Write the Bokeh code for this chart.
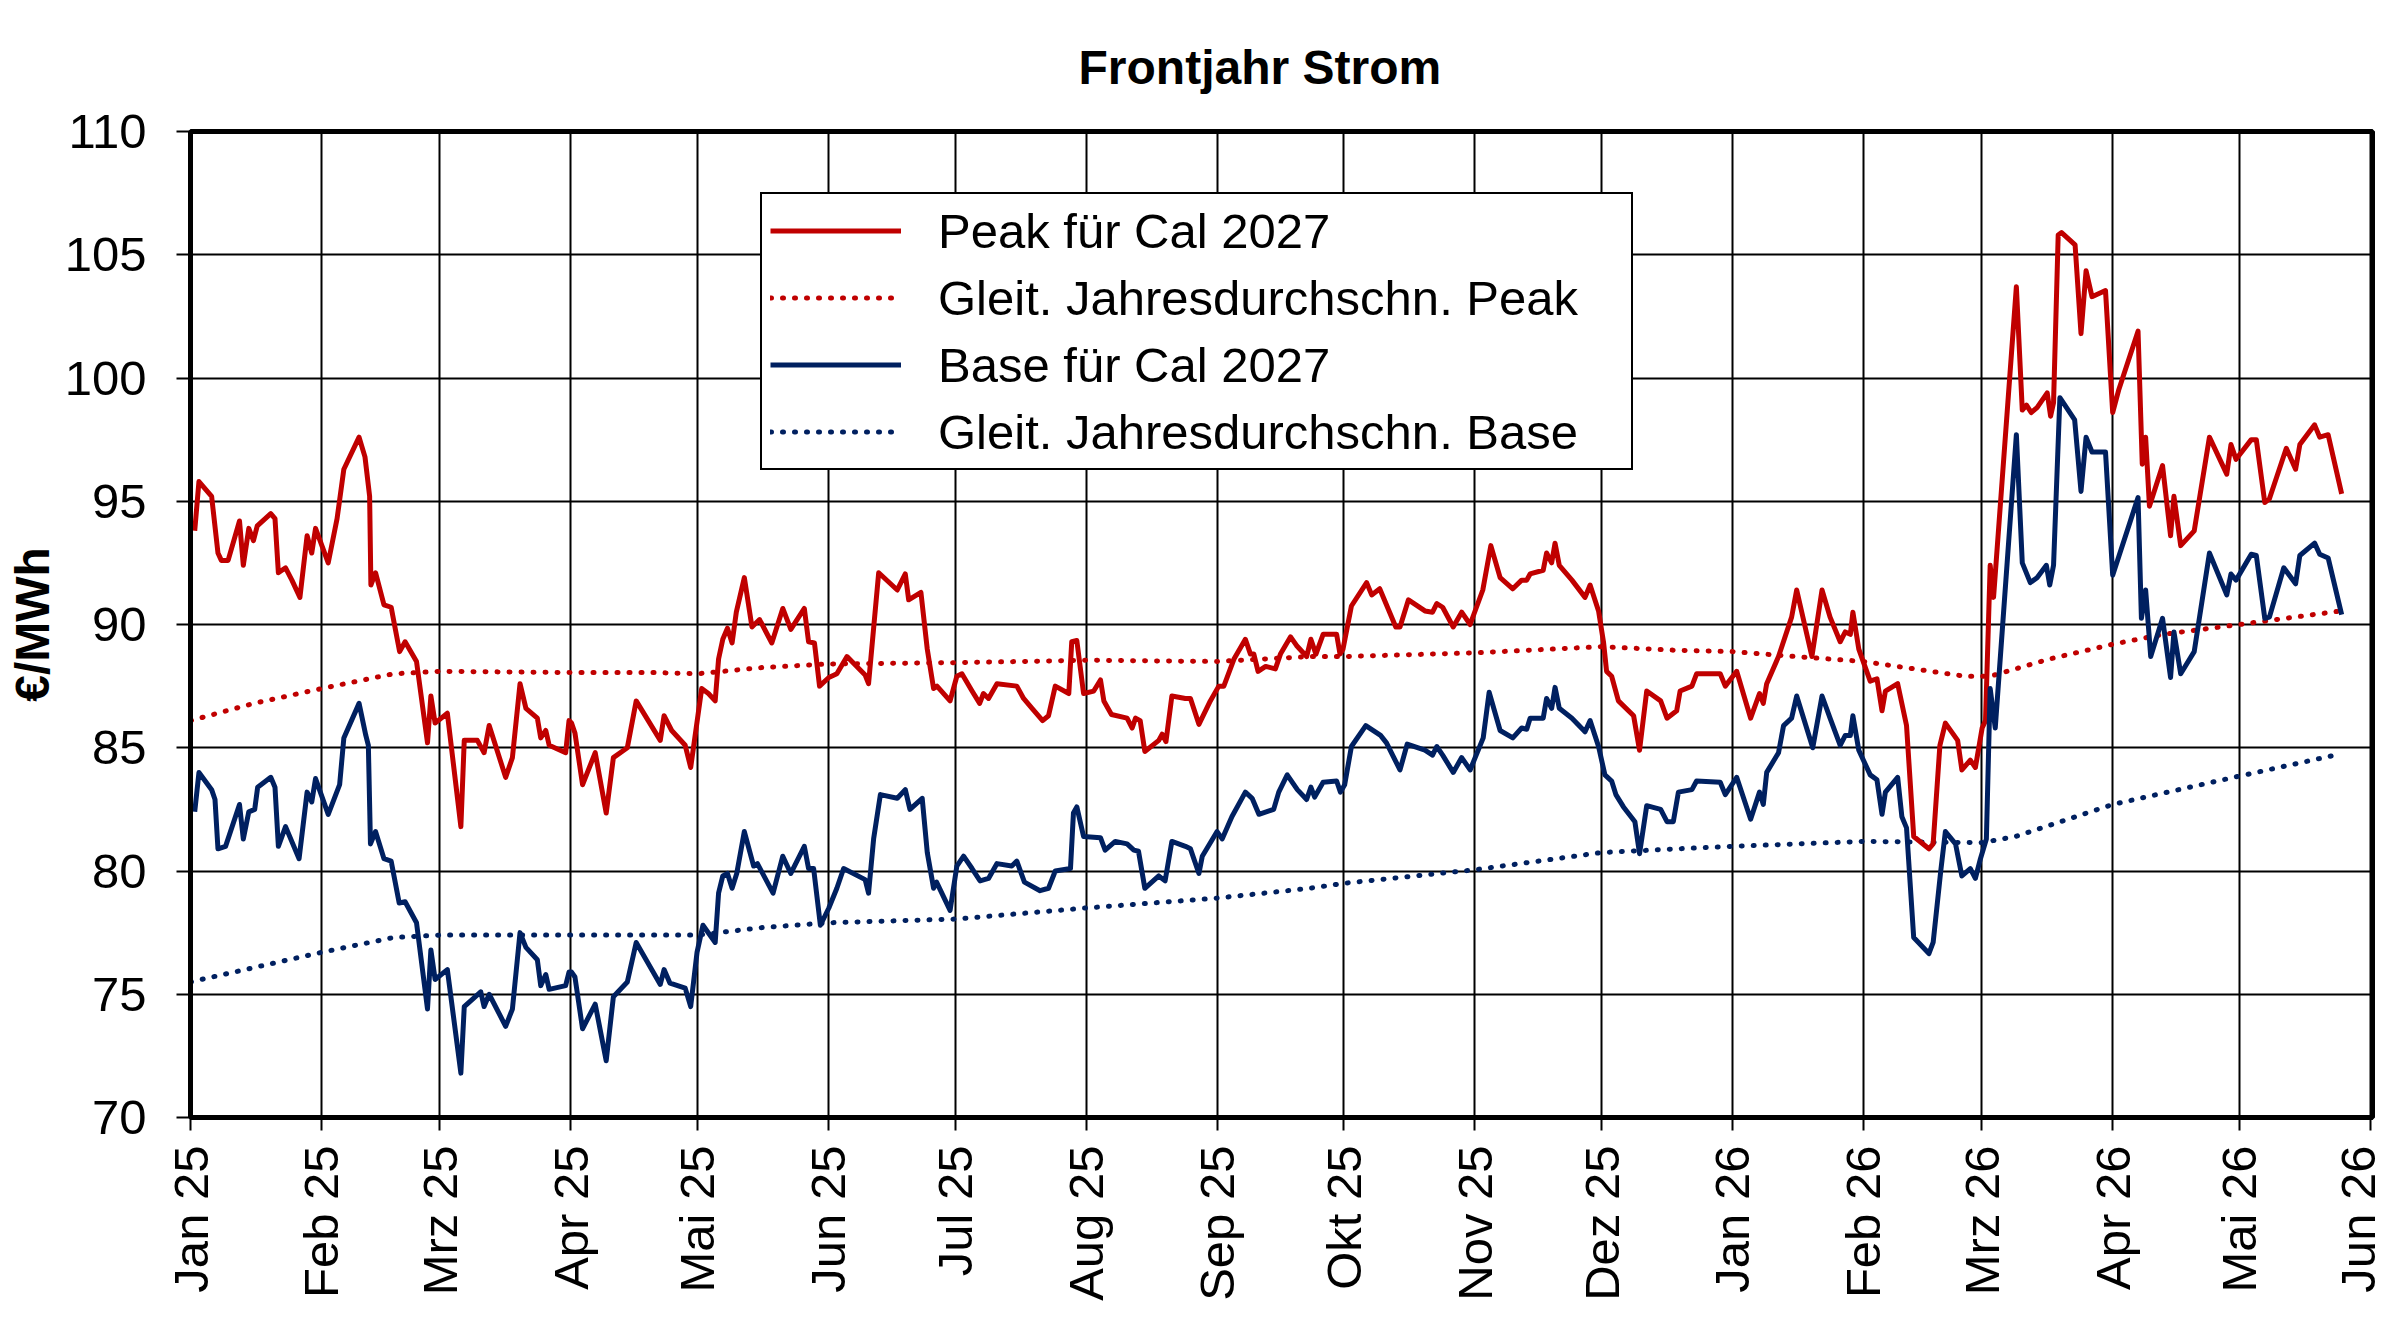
import numpy as np
import pandas as pd
from bokeh.plotting import figure
from bokeh.models import FixedTicker, Range1d, Legend, LegendItem
from bokeh.embed import file_html
from bokeh.resources import INLINE

# ---------------- data ----------------
# x values are days after 2025-01-01
peak_day = [
    1, 2, 5, 6.5, 7.3, 8.9, 11.6, 12.5, 13.8, 14.9, 15.8, 19, 20, 20.8, 22.5, 24, 25.9, 27.6, 28.7, 29.6,
    32.6, 34.7, 36.3, 39.9, 41.3, 42.4, 42.7, 43.8, 45.8, 47.5, 49.5, 50.8, 53.5, 56.1, 56.9, 57.9,
    60.8, 64, 64.8, 67.9, 69.5, 70.7, 74.6, 76.2, 78, 79.4, 82.1, 82.9, 84.1, 84.9, 88.8, 89.6,
    90.2, 91, 92.8, 95.8, 98.4, 100.1, 103.4, 105.5, 111.2, 112.1, 113.9, 117.1, 118.4,
    121, 122.6, 124.2, 125, 126, 127.1, 128.2, 129.2, 131.1, 132.9, 134.7, 137.6, 140.2, 142.1, 145.3, 146.3, 147.7, 148.9,
    151.1, 153, 155.4, 159.7, 160.5, 162.9, 167.3, 169.2, 170, 172.9, 174.4, 175.9,
    176.7, 179.8, 181.4, 182.6, 185, 186.8, 187.7, 188.9, 190.9, 195.6, 197.2, 199.2, 201.7, 203.1, 204.7, 207.9, 208.6, 209.8,
    211.4, 213.8, 215.4, 216.2, 218, 221.7, 222.9, 223.7, 224.8, 225.9, 229.2, 230, 230.9, 232.3, 235.5, 236.7, 238.7,
    241.4, 243.4, 244.6, 247, 249.7, 250.9, 251.7, 252.7, 254.5, 256.8, 258, 260.4,
    261.8, 264.2, 265.2, 266.4, 268.1, 271.3, 272.1, 272.8, 274.8, 278.4, 279.6, 281.5, 285.3, 286.3, 288.3, 292.2, 294, 295, 296.4, 298.9,
    300.9, 302.9, 305.9, 307.8, 310, 313, 315.1, 316.3, 317.1, 320.2, 321, 322.2, 323, 324, 327, 330.1, 331.3, 333.3,
    334.5, 335.2, 336.4, 338, 341.6, 343, 344.7, 348, 349.5, 351.8, 352.6,
    355.4, 356.5, 362.1, 363.3, 366, 369.3, 371.4, 372.3, 373.1, 375.9, 379, 380.2, 383.8, 386.2, 388.1, 390.5, 391.7, 392.9, 393.5, 394.9,
    397.6, 399.2, 400.4, 401.2, 404.1, 406.2, 407.9, 411.5, 412.5, 414.1, 415.4, 418.3, 419.3, 421.3, 422.5, 424.1, 424.9,
    426, 426.8, 432.2, 433.6, 434.6, 435.7, 437.1, 439.5, 440.3,
    441, 442.1, 442.9, 446.1, 447.5, 448.7, 450.1, 453.3, 455, 456.4, 461, 462, 462.8, 463.7, 466.8, 468.7, 469.5, 471.1, 474.3, 477.9,
    482, 483, 484.2, 487.8, 489, 491, 492.1, 496.1, 498.3, 499.3, 502.8, 504, 506, 509.2,
]
peak_eur = [
    93.8, 95.8, 95.2, 92.9, 92.6, 92.6, 94.2, 92.4, 93.9, 93.4, 94.0, 94.5, 94.3, 92.1, 92.3, 91.8, 91.1, 93.6, 92.9, 93.9,
    92.5, 94.3, 96.3, 97.6, 96.8, 95.2, 91.6, 92.1, 90.8, 90.7, 88.9, 89.3, 88.5, 85.2, 87.1, 86.0,
    86.4, 81.8, 85.3, 85.3, 84.8, 85.9, 83.8, 84.6, 87.6, 86.6, 86.2, 85.4, 85.7, 85.1, 84.8, 86.1,
    86.0, 85.6, 83.5, 84.8, 82.35, 84.6, 85.0, 86.9, 85.3, 86.3, 85.7, 85.1, 84.2,
    87.4, 87.2, 86.9, 88.6, 89.4, 89.85, 89.25, 90.5, 91.9, 89.9, 90.2, 89.25, 90.65, 89.8, 90.65, 89.3, 89.25, 87.5,
    87.85, 88.0, 88.7, 87.95, 87.6, 92.1, 91.4, 92.05, 91.0, 91.3, 89.0, 87.4,
    87.5, 86.9, 87.9, 88.0, 87.3, 86.8, 87.2, 87.0, 87.6, 87.5, 87.0, 86.6, 86.1, 86.3, 87.5, 87.2, 89.3, 89.35,
    87.2, 87.3, 87.75, 86.9, 86.35, 86.2, 85.8, 86.2, 86.1, 84.85, 85.3, 85.55, 85.25, 87.1, 87.0, 87.0, 85.95,
    86.9, 87.5, 87.5, 88.6, 89.4, 88.8, 88.8, 88.1, 88.3, 88.2, 88.8, 89.5,
    89.15, 88.7, 89.4, 88.8, 89.6, 89.6, 88.8, 89.0, 90.75, 91.7, 91.2, 91.45, 89.9, 89.9, 91.0, 90.55, 90.5, 90.85, 90.7, 89.9,
    90.5, 90.0, 91.4, 93.2, 91.9, 91.45, 91.8, 91.8, 92.05, 92.2, 92.9, 92.5, 93.3, 92.4, 91.8, 91.1, 91.6, 90.55,
    89.25, 88.1, 87.9, 86.9, 86.3, 84.9, 87.3, 86.9, 86.2, 86.5, 87.3,
    87.5, 88.0, 88.0, 87.5, 88.1, 86.2, 87.2, 86.8, 87.6, 88.7, 90.3, 91.4, 88.7, 91.4, 90.3, 89.3, 89.7, 89.6, 90.5, 89.0,
    87.7, 87.8, 86.5, 87.3, 87.6, 85.9, 81.4, 80.9, 81.1, 85.1, 86.0, 85.3, 84.1, 84.5, 84.2, 85.8, 86.1,
    92.4, 91.1, 103.7, 98.7, 98.9, 98.6, 98.8, 99.4, 98.45,
    99.0, 105.8, 105.9, 105.4, 101.8, 104.35, 103.3, 103.55, 98.6, 99.5, 101.9, 96.5, 97.6, 94.8, 96.45, 93.6, 95.2, 93.2, 93.8, 97.6,
    96.1, 97.3, 96.7, 97.5, 97.5, 94.95, 95.1, 97.15, 96.3, 97.3, 98.1, 97.6, 97.7, 95.3,
]

base_day = [
    1, 2, 5, 5.8, 6.5, 8.3, 11.6, 12.5, 13.8, 15.2, 15.9, 19, 20, 20.8, 22.5, 25.7, 27.6, 28.7, 29.6, 32.6,
    35.3, 36.3, 39.9, 41.5, 42.1, 42.6, 43.8, 45.8, 47.5, 49.4, 50.8, 53.5, 56.1, 56.9, 57.9, 60.8, 64, 64.8, 68.7, 69.5,
    70.7, 74.6, 76.2, 78, 79.4, 82.1, 82.9, 84.1, 84.9, 88.8, 89.6,
    90.2, 91, 92.8, 95.8, 98.4, 100.1, 103.4, 105.5, 111.2, 112.1, 113.5, 117.1, 118.4, 119.9, 121.3, 124.2, 125, 126, 127.1, 128.2,
    129.3, 131.1, 133.3, 134.2, 137.9, 140.2, 142.1, 145.3, 146.3, 147.5, 149.1, 151.1, 153, 154.6, 159.7, 160.5, 161.7, 163.3, 167.3, 169.2,
    170.3, 173.2, 174.4, 175.9,
    176.6, 179.8, 181.4, 183, 185, 186.9, 188.9, 190.9, 194.4, 195.6, 197.4, 201.1, 203.1, 204.7, 208.3, 209, 209.8, 211.4, 215.4, 216.5,
    218.9, 221.7, 223.3, 224.4, 225.9, 229.2, 230.7, 232.3, 235.5, 236.7, 238.7, 239.5, 243, 244.2, 246.5, 249.7, 251.3, 252.9, 256.4, 257.6,
    259.6,
    262, 264.2, 265.2, 266.1, 268.1, 271.3, 272.2, 273.2, 274.8, 278.2, 281.7, 283.1, 286.3, 288, 292.2, 294, 295, 296.4, 298.9, 300.9,
    302.9, 306, 307.4, 310, 313, 315.1, 316.3, 317.1, 320.2, 321, 322.2, 323, 324, 327, 330.1, 331.3, 333.3, 334.8, 336.4, 337.4,
    339.2, 341.9, 343, 344.7, 348, 349.5, 351, 352.2,
    355.4, 356.5, 362.1, 363.3, 366, 369.3, 371.4, 372.3, 373.1, 375.9, 377.1, 379, 380.2, 384, 386.2, 388.1, 390.5, 391.7, 392.9, 393.5,
    394.9, 397.6, 399.2, 400.4, 401.2, 404.1, 405.1, 406.2, 407.9, 411.5, 412.5, 414.3, 415.4, 417.8, 419.3, 421.3, 422.5, 423.7, 425.1, 426,
    427.2, 432.2, 433.6, 435.5, 437.1, 439.3, 440.1,
    441, 442.5, 446, 447.5, 448.7, 450.1, 453.3, 455, 461, 461.8, 462.8, 464, 466.8, 468.7, 469.5, 471.1, 474.3, 477.9, 482, 483,
    484.2, 487.8, 489, 491, 492.1, 495.5, 498.3, 499.3, 502.8, 504, 506, 509.2,
]
base_eur = [
    82.4, 84.0, 83.3, 82.9, 80.9, 81.0, 82.7, 81.3, 82.4, 82.5, 83.4, 83.8, 83.4, 81.0, 81.8, 80.5, 83.2, 82.8, 83.75, 82.3,
    83.5, 85.4, 86.8, 85.5, 85.1, 81.1, 81.6, 80.5, 80.4, 78.7, 78.75, 77.9, 74.4, 76.8, 75.6, 76.0, 71.8, 74.5, 75.1, 74.5,
    75.0, 73.7, 74.4, 77.5, 76.9, 76.4, 75.35, 75.8, 75.2, 75.35, 75.9,
    75.9, 75.7, 73.6, 74.6, 72.3, 74.9, 75.5, 77.1, 75.4, 76.0, 75.45, 75.25, 74.5, 76.7, 77.8, 77.1, 79.1, 79.8, 79.9, 79.3,
    79.9, 81.6, 80.2, 80.3, 79.1, 80.6, 79.9, 81.0, 80.1, 80.1, 77.8, 78.5, 79.3, 80.1, 79.65, 79.1, 81.3, 83.1, 82.95, 83.3,
    82.5, 82.95, 80.75, 79.3,
    79.55, 78.4, 80.2, 80.6, 80.1, 79.6, 79.7, 80.3, 80.2, 80.4, 79.55, 79.2, 79.3, 80.0, 80.1, 82.35, 82.6, 81.4, 81.35, 80.85,
    81.2, 81.1, 80.85, 80.8, 79.3, 79.8, 79.6, 81.2, 81.0, 80.9, 79.9, 80.6, 81.6, 81.3, 82.2, 83.2, 82.95, 82.3, 82.5, 83.2,
    83.9,
    83.3, 82.9, 83.4, 83.0, 83.6, 83.65, 83.2, 83.5, 85.05, 85.9, 85.5, 85.2, 84.1, 85.15, 84.9, 84.7, 85.05, 84.7, 84.0, 84.6,
    84.1, 85.4, 87.25, 85.7, 85.4, 85.8, 85.75, 86.2, 86.2, 87.0, 86.6, 87.45, 86.6, 86.2, 85.65, 86.1, 85.05, 83.9, 83.65, 83.1,
    82.6, 82.0, 80.7, 82.65, 82.5, 82.0, 82.0, 83.2,
    83.3, 83.65, 83.6, 83.1, 83.8, 82.1, 83.2, 82.7, 84.0, 84.8, 85.9, 86.2, 87.1, 85.0, 87.1, 86.2, 85.1, 85.5, 85.5, 86.3,
    84.9, 83.9, 83.7, 82.3, 83.2, 83.8, 82.2, 81.75, 77.3, 76.65, 77.1, 80.0, 81.6, 81.1, 79.8, 80.1, 79.7, 80.5, 81.3, 87.4,
    85.8, 97.7, 92.5, 91.7, 91.9, 92.4, 91.6,
    92.4, 99.2, 98.3, 95.4, 97.6, 97.0, 97.0, 92.0, 95.15, 90.25, 91.4, 88.7, 90.25, 87.85, 89.7, 88.0, 88.9, 92.9, 91.2, 92.05,
    91.8, 92.85, 92.8, 90.25, 90.3, 92.3, 91.65, 92.8, 93.3, 92.85, 92.7, 90.4,
]

# moving yearly averages (dotted)
peak_avg_day = [0, 15, 31, 48, 59, 90, 110, 120, 135, 151, 181, 212, 243, 265, 273, 304, 334, 352, 365,
                380, 396, 410, 420, 426, 432, 440, 455, 467, 485, 509]
peak_avg_eur = [86.1, 86.8, 87.4, 88.0, 88.1, 88.05, 88.05, 88.0, 88.25, 88.4, 88.45, 88.55, 88.5, 88.7, 88.7, 88.85,
                89.1, 88.95, 88.9, 88.7, 88.5, 88.15, 87.9, 87.9, 88.2, 88.6, 89.2, 89.6, 90.0, 90.55]
base_avg_day = [0, 31, 48, 59, 90, 120, 135, 151, 181, 212, 243, 265, 273, 304, 334, 352, 365, 396, 424,
                432, 440, 455, 485, 509]
base_avg_eur = [75.5, 76.7, 77.3, 77.4, 77.4, 77.4, 77.7, 77.9, 78.05, 78.5, 78.9, 79.3, 79.5, 80.05, 80.75, 80.9,
                81.0, 81.2, 81.15, 81.4, 81.85, 82.7, 83.85, 84.75]

month_labels = ["Jan 25", "Feb 25", "Mrz 25", "Apr 25", "Mai 25", "Jun 25", "Jul 25", "Aug 25", "Sep 25",
                "Okt 25", "Nov 25", "Dez 25", "Jan 26", "Feb 26", "Mrz 26", "Apr 26", "Mai 26", "Jun 26"]
y_ticks = [70, 75, 80, 85, 90, 95, 100, 105, 110]

series_labels = ["Peak für Cal 2027", "Gleit. Jahresdurchschn. Peak",
                 "Base für Cal 2027", "Gleit. Jahresdurchschn. Base"]

assert len(peak_day) == len(peak_eur)
assert len(base_day) == len(base_eur)
assert len(peak_avg_day) == len(peak_avg_eur)
assert len(base_avg_day) == len(base_avg_eur)

# ---------------- helpers ----------------
START_MS = pd.Timestamp("2025-01-01").value // 1_000_000
DAY_MS = 86_400_000


def to_ms(days):
    return [START_MS + d * DAY_MS for d in days]


month_ticks = [int(t.value // 1_000_000) for t in pd.date_range("2025-01-01", "2026-06-01", freq="MS")]

RED = "#C00000"
BLUE = "#002060"
FONT = "Liberation Sans"

p = figure(width=2384, height=1303, x_axis_type="datetime",
           x_range=Range1d(START_MS, START_MS + 516.5 * DAY_MS),
           y_range=Range1d(70, 110),
           output_backend="svg", toolbar_location=None,
           min_border_left=190, min_border_right=12, min_border_top=131, min_border_bottom=183,
           background_fill_color="white", border_fill_color="white")

# title
p.title.text = "Frontjahr Strom"
p.title.text_font = FONT
p.title.text_font_size = "48px"
p.title.text_font_style = "bold"
p.title.text_color = "black"
p.title.align = "left"
p.title.offset = 888
p.title.standoff = 76

# axes / grid
p.xaxis.ticker = FixedTicker(ticks=month_ticks)
p.xaxis.major_label_overrides = {t: lab for t, lab in zip(month_ticks, month_labels)}
p.xgrid.ticker = FixedTicker(ticks=month_ticks)
p.yaxis.ticker = FixedTicker(ticks=y_ticks)
p.ygrid.ticker = FixedTicker(ticks=y_ticks)

p.grid.grid_line_color = "black"
p.grid.grid_line_width = 2
p.grid.grid_line_alpha = 1.0
p.outline_line_color = "black"
p.outline_line_width = 5
p.outline_line_alpha = 1.0

p.axis.axis_line_color = "black"
p.axis.axis_line_width = 5
p.axis.major_tick_line_color = "black"
p.axis.major_tick_line_width = 2
p.axis.major_tick_in = 0
p.xaxis.major_tick_out = 13
p.yaxis.major_tick_out = 14
p.axis.minor_tick_line_color = None
p.axis.major_label_text_font = FONT
p.axis.major_label_text_font_size = "49px"
p.axis.major_label_text_color = "black"
p.xaxis.major_label_orientation = np.pi / 2
p.xaxis.major_label_standoff = 15
p.yaxis.major_label_standoff = 30

p.yaxis.axis_label = "€/MWh"
p.yaxis.axis_label_text_font = FONT
p.yaxis.axis_label_text_font_size = "48px"
p.yaxis.axis_label_text_font_style = "bold"
p.yaxis.axis_label_text_color = "black"
p.yaxis.axis_label_standoff = 3

# lines
r_pavg = p.line(to_ms(peak_avg_day), peak_avg_eur, line_color=RED, line_width=5,
                line_dash="1 11", line_cap="round")
r_bavg = p.line(to_ms(base_avg_day), base_avg_eur, line_color=BLUE, line_width=5,
                line_dash="1 11", line_cap="round")
r_peak = p.line(to_ms(peak_day), peak_eur, line_color=RED, line_width=5, line_join="round")
r_base = p.line(to_ms(base_day), base_eur, line_color=BLUE, line_width=5, line_join="round")

legend = Legend(
    items=[LegendItem(label=series_labels[0], renderers=[r_peak]),
           LegendItem(label=series_labels[1], renderers=[r_pavg]),
           LegendItem(label=series_labels[2], renderers=[r_base]),
           LegendItem(label=series_labels[3], renderers=[r_bavg])],
    location=(570, 647), margin=0, padding=8, spacing=10,
    glyph_width=131, glyph_height=57, label_height=57, label_width=685, label_standoff=37,
    label_text_font=FONT, label_text_font_size="49px", label_text_color="black",
    border_line_color="black", border_line_width=2, border_line_alpha=1.0,
    background_fill_color="white", background_fill_alpha=1.0,
)
p.add_layout(legend)

with open("out.html", "w", encoding="utf-8") as f:
    f.write(file_html(p, INLINE))
